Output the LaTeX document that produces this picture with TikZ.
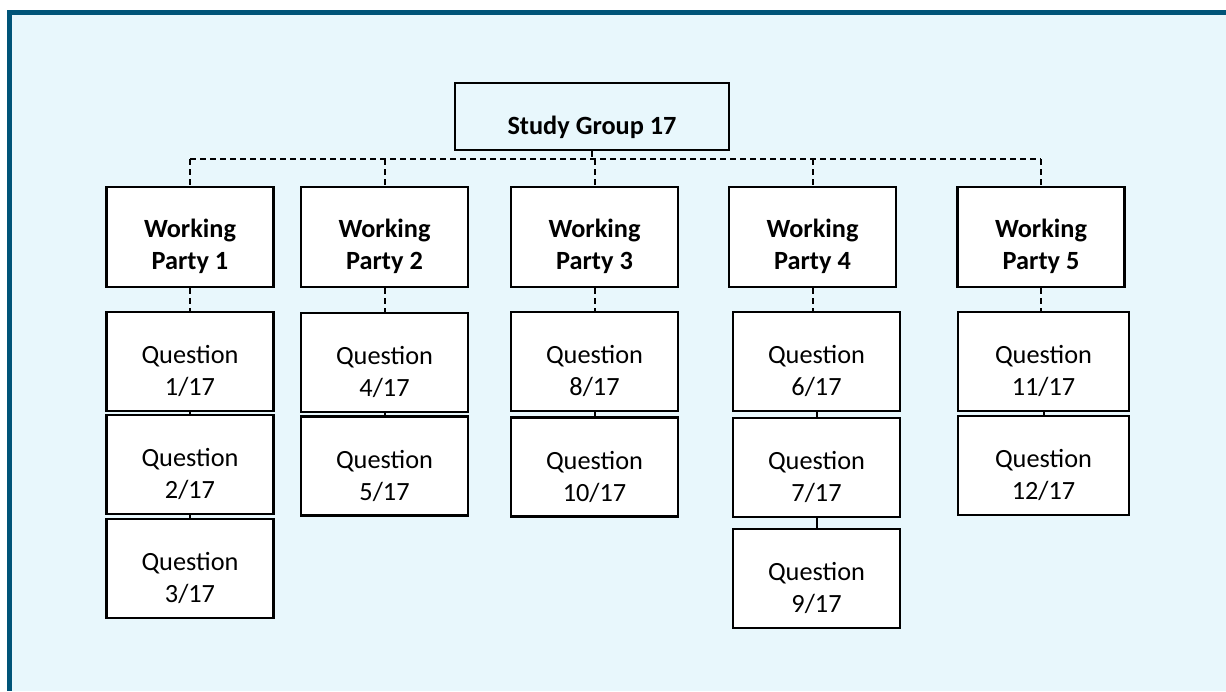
\documentclass[tikz,border=0pt]{standalone}
\usepackage{fontspec}
\setmainfont{Carlito}
\definecolor{frame}{RGB}{0,84,120}
\definecolor{bgblue}{RGB}{232,247,252}
\tikzset{
  box/.style={draw=black, line width=2.3pt, fill=white, inner sep=0pt, minimum width=167pt, minimum height=100pt},
  qbox/.style={box, minimum height=99pt},
  sgbox/.style={box, fill=bgblue, minimum width=274pt, minimum height=67pt},
  txt/.style={inner sep=0pt, align=center, font=\fontsize{26.3}{32}\selectfont},
  btxt/.style={txt, font=\fontsize{26.3}{32}\selectfont\bfseries},
  dashline/.style={line width=2pt, dash pattern=on 6pt off 4pt},
  solidline/.style={line width=2pt}
}
\begin{document}
\begin{tikzpicture}[x=1pt,y=-1pt]
\useasboundingbox (0,0) rectangle (1226,691);
\fill[white] (0,0) rectangle (1226,691);
\fill[bgblue] (7,10) rectangle (1226,691);
\fill[frame] (7,10) rectangle (1226,15);
\fill[frame] (7,10) rectangle (12,691);

% top
\node[sgbox] (sg) at (592,116.5) {};
\node[btxt] (sgt) at ([yshift=-10.5pt]sg.center) {Study Group 17};

% working parties
\node[box] (wp1) at (190,237) {};
\node[box] (wp2) at (384.5,237) {};
\node[box] (wp3) at (594.5,237) {};
\node[box] (wp4) at (812.5,237) {};
\node[box] (wp5) at (1041,237) {};
\foreach \i in {1,...,5}{
  \node[btxt] (wpt\i) at ([yshift=-9.5pt]wp\i.center) {Working\\Party \i};
}

% questions
\node[qbox] (q1) at (190,361.5) {};
\node[qbox] (q2) at (190,464.5) {};
\node[qbox] (q3) at (190,568.5) {};
\node[qbox] (q4) at (384.5,362.5) {};
\node[qbox] (q5) at (384.5,466) {};
\node[qbox] (q8) at (594.5,361.5) {};
\node[qbox] (q10) at (594.5,467) {};
\node[qbox] (q6) at (816.5,361.5) {};
\node[qbox] (q7) at (816.5,467.5) {};
\node[qbox] (q9) at (816.5,578.5) {};
\node[qbox, minimum width=171pt] (q11) at (1043.5,361.5) {};
\node[qbox, minimum width=171pt] (q12) at (1043.5,465.5) {};
\foreach \n in {1,2,3,4,5,6,7,8,9,10,11,12}{
  \node[txt] (qt\n) at ([yshift=-9.5pt]q\n.center) {Question\\\n/17};
}

% connectors
\coordinate (bus) at (0,159);
\draw[dashline] (sg.south) -- (sg.south |- bus);
\draw[dashline] (wp1.north |- bus) -- (wp5.north |- bus);
\foreach \i in {1,...,5}{
  \draw[dashline] (wp\i.north |- bus) -- (wp\i.north);
}
\draw[dashline] (wp1.south) -- (wp1.south |- q1.north);
\draw[dashline] (wp2.south) -- (wp2.south |- q4.north);
\draw[dashline] (wp3.south) -- (wp3.south |- q8.north);
\draw[dashline] (wp4.south) -- (wp4.south |- q6.north);
\draw[dashline] (wp5.south) -- (wp5.south |- q11.north);
\draw[solidline] (q1.south) -- (q2.north);
\draw[solidline] (q2.south) -- (q3.north);
\draw[solidline] (q4.south) -- (q5.north);
\draw[solidline] (q8.south) -- (q10.north);
\draw[solidline] (q6.south) -- (q7.north);
\draw[solidline] (q7.south) -- (q9.north);
\draw[solidline] (q11.south) -- (q12.north);
\end{tikzpicture}
\end{document}
